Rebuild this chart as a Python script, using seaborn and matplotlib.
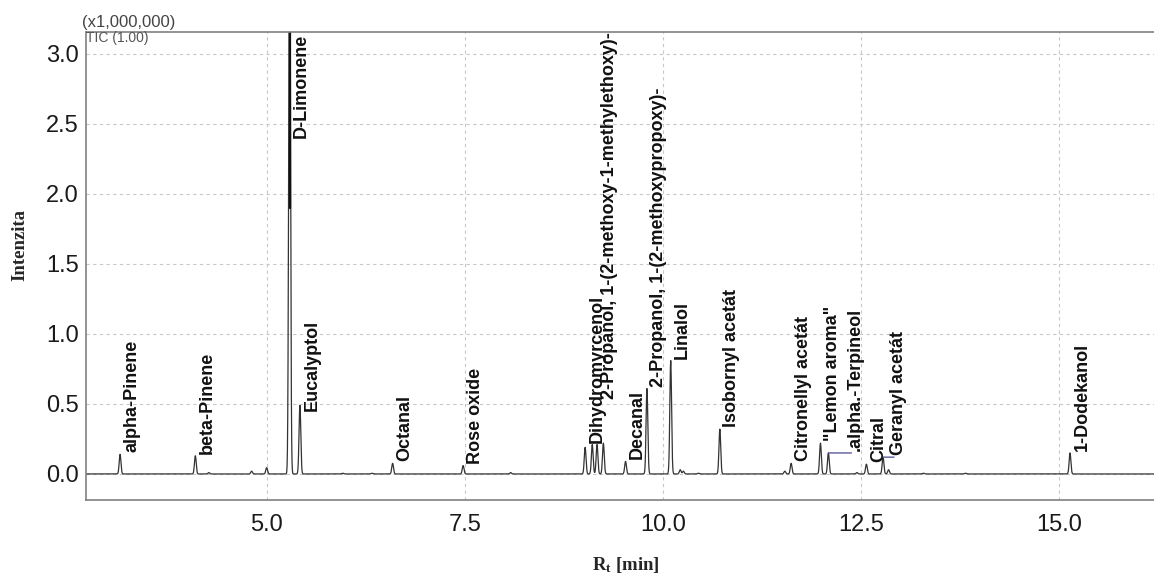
import numpy as np
import pandas as pd
import matplotlib
matplotlib.use("agg")
import matplotlib.pyplot as plt
import seaborn as sns

# labelled peaks: retention time [min], height [x1,000,000]
peak_names = [
    "alpha-Pinene", "beta-Pinene", "D-Limonene", "Eucalyptol", "Octanal",
    "Rose oxide", "Dihydromyrcenol", "2-Propanol, 1-(2-methoxy-1-methylethoxy)-",
    "Decanal", "2-Propanol, 1-(2-methoxypropoxy)-", "Linalol", "Isobornyl acetát",
    "Citronellyl acetát", "\"Lemon aroma\"", ".alpha.-Terpineol", "Citral",
    "Geranyl acetát", "1-Dodekanol",
]
peak_rt = [3.15, 4.10, 5.29, 5.42, 6.59, 7.48, 9.02, 9.17, 9.53, 9.80, 10.10,
           10.72, 11.62, 11.99, 12.09, 12.57, 12.78, 15.14]
peak_height = [0.14, 0.13, 4.20, 0.49, 0.076, 0.06, 0.19, 0.21, 0.09, 0.61, 0.81,
               0.32, 0.076, 0.22, 0.15, 0.07, 0.12, 0.15]

# small unlabelled peaks
minor_rt = [4.27, 4.81, 5.00, 5.96, 6.33, 8.08, 9.11, 9.25, 10.22, 10.26, 10.45,
            11.54, 12.45, 12.85, 13.29, 13.82]
minor_height = [0.01, 0.02, 0.045, 0.005, 0.005, 0.01, 0.21, 0.22, 0.03, 0.02, 0.005,
                0.02, 0.01, 0.03, 0.005, 0.005]

# chromatogram trace built from the peak table
rt_all = np.array(peak_rt + minor_rt)
h_all = np.array(peak_height + minor_height)
t = np.arange(2.72, 16.2, 0.002)
sigma = 0.011
signal = (h_all[None, :] * np.exp(-0.5 * ((t[:, None] - rt_all[None, :]) / sigma) ** 2)).sum(axis=1)
df = pd.DataFrame({"rt": t, "tic": signal})

sns.set_style("white")
plt.rcParams["font.family"] = ["Liberation Sans", "DejaVu Sans"]
plt.rcParams["mathtext.fontset"] = "custom"
plt.rcParams["mathtext.rm"] = "Liberation Serif"
plt.rcParams["mathtext.bf"] = "Liberation Serif:bold"

fig = plt.figure(figsize=(11.54, 5.84), dpi=100)
ax = fig.add_axes([86 / 1154, 84 / 584, 1 - 86 / 1154, (500 - 32) / 584])

sns.lineplot(data=df, x="rt", y="tic", ax=ax, color="#333333", lw=0.9, estimator=None)

ax.set_xlim(2.72, 16.2)
ax.set_ylim(-0.186, 3.157)
ax.set_xticks([5.0, 7.5, 10.0, 12.5, 15.0])
ax.set_xticks(np.arange(3.0, 16.1, 0.5), minor=True)
ax.set_yticks([0.0, 0.5, 1.0, 1.5, 2.0, 2.5, 3.0])
ax.set_yticks(np.arange(-0.1, 3.15, 0.1), minor=True)
ax.xaxis.set_major_formatter(matplotlib.ticker.FormatStrFormatter("%.1f"))
ax.yaxis.set_major_formatter(matplotlib.ticker.FormatStrFormatter("%.1f"))
ax.tick_params(axis="both", which="major", labelsize=17, labelcolor="#1a1a1a",
               color="#808080", length=4, width=1)
ax.tick_params(axis="both", which="minor", color="#808080", length=2.5, width=0.8)
ax.tick_params(axis="x", which="major", pad=6)
ax.tick_params(axis="y", which="major", pad=1)
ax.grid(True, which="major", color="#c8c8c8", ls=(0, (3, 3)), lw=0.8)
for side in ["left", "bottom", "top"]:
    ax.spines[side].set_color("#808080")
    ax.spines[side].set_linewidth(1.2)
ax.spines["right"].set_visible(False)
ax.set_xlabel("")
ax.set_ylabel("")

# peak labels, anchored just right of each peak top
label_dx = {".alpha.-Terpineol": 27, "Geranyl acetát": 15}
label_dy = {"Eucalyptol": -8, "Dihydromyrcenol": 2}
label_y = {"2-Propanol, 1-(2-methoxy-1-methylethoxy)-": 0.52}
for name, rt, h in zip(peak_names, peak_rt, peak_height):
    dx = label_dx.get(name, 12)
    if name == "D-Limonene":
        ax.annotate(name, xy=(rt, 3.157), xytext=(dx, -2), textcoords="offset pixels",
                    rotation=90, ha="center", va="top", fontsize=13,
                    fontweight="bold", color="#111111")
        ax.plot([rt, rt], [1.9, 3.157], color="#111111", lw=1.6)
        continue
    y = label_y.get(name, h)
    ax.annotate(name, xy=(rt, y), xytext=(dx, 2 + label_dy.get(name, 0)),
                textcoords="offset pixels", rotation=90, ha="center", va="bottom",
                fontsize=13, fontweight="bold", color="#111111")
    if name in label_dx:
        ax.annotate("", xy=(rt, h), xytext=(dx - 4, 0), textcoords="offset pixels",
                    arrowprops=dict(arrowstyle="-", color="#5b5b9b", lw=1,
                                    shrinkA=0, shrinkB=0))

fig.text(82 / 1154, 1 - 23 / 584, "(x1,000,000)", fontsize=12, color="#444444",
         ha="left", va="center")
fig.text(86 / 1154, 1 - 38 / 584, "TIC (1.00)", fontsize=10, color="#555555",
         ha="left", va="center")
fig.text(20 / 1154, 1 - 245 / 584, "Intenzita", rotation=90, fontsize=13.5,
         fontweight="bold", family="Liberation Serif", ha="center", va="center")
fig.text(626 / 1154, 1 - 565 / 584, r"$\mathbf{R_t}$ [min]", fontsize=13.5,
         fontweight="bold", family="Liberation Serif", ha="center", va="center")

fig.savefig("out.png", dpi=100)
